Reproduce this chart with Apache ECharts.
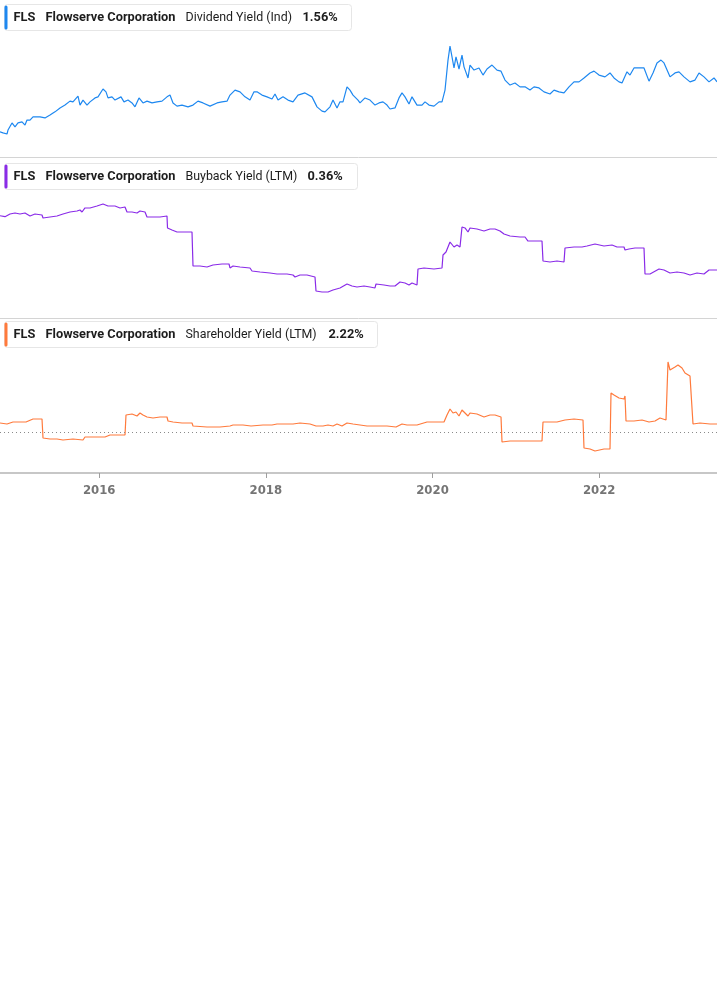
<!DOCTYPE html>
<html>
<head>
<meta charset="utf-8">
<script src="https://cdn.jsdelivr.net/npm/echarts@6/dist/echarts.min.js"></script>
<style>
html,body{margin:0;padding:0;background:#fff;}
#chart{width:717px;height:1005px;}
</style>
</head>
<body>
<div id="chart"></div>
<script>
// ---------- DATA (x values are decimal years) ----------
const ticker = 'FLS';
const company = 'Flowserve Corporation';
const metricNames = ['Dividend Yield (Ind)', 'Buyback Yield (LTM)', 'Shareholder Yield (LTM)'];
const latestValues = ['1.56%', '0.36%', '2.22%'];
const tickYears = [2016, 2018, 2020, 2022];
const xStart = 2014.81;
const xEnd = 2023.414;
const shareholderRef = 1.8;

const dividendYears = [2014.810,2014.846,2014.894,2014.906,2014.954,2014.990,2015.026,2015.074,2015.110,2015.134,2015.170,2015.206,2015.290,2015.350,2015.410,2015.470,2015.530,2015.590,2015.650,2015.686,2015.746,2015.770,2015.806,2015.854,2015.890,2015.950,2015.986,2016.046,2016.082,2016.106,2016.154,2016.190,2016.262,2016.298,2016.346,2016.394,2016.430,2016.478,2016.526,2016.574,2016.634,2016.694,2016.754,2016.814,2016.850,2016.886,2016.934,2016.994,2017.066,2017.126,2017.186,2017.246,2017.330,2017.414,2017.474,2017.534,2017.570,2017.630,2017.690,2017.750,2017.810,2017.858,2017.894,2017.954,2018.014,2018.074,2018.110,2018.146,2018.206,2018.266,2018.326,2018.386,2018.470,2018.554,2018.614,2018.674,2018.710,2018.770,2018.806,2018.854,2018.890,2018.926,2018.974,2019.010,2019.046,2019.106,2019.130,2019.190,2019.250,2019.310,2019.358,2019.406,2019.454,2019.490,2019.550,2019.598,2019.634,2019.670,2019.718,2019.754,2019.814,2019.874,2019.910,2019.958,2020.018,2020.078,2020.114,2020.150,2020.186,2020.210,2020.234,2020.258,2020.282,2020.318,2020.354,2020.378,2020.426,2020.450,2020.498,2020.558,2020.606,2020.654,2020.714,2020.774,2020.822,2020.870,2020.930,2020.990,2021.050,2021.110,2021.170,2021.218,2021.278,2021.338,2021.410,2021.458,2021.518,2021.578,2021.638,2021.698,2021.758,2021.818,2021.890,2021.938,2021.998,2022.070,2022.130,2022.178,2022.238,2022.274,2022.334,2022.370,2022.418,2022.478,2022.538,2022.598,2022.646,2022.694,2022.742,2022.778,2022.850,2022.910,2022.958,2023.018,2023.090,2023.150,2023.198,2023.258,2023.318,2023.378,2023.414];
const dividendValues = [0.91,0.88,0.85,0.96,1.16,1.05,1.16,1.19,1.10,1.24,1.24,1.33,1.33,1.30,1.38,1.47,1.58,1.66,1.77,1.75,1.91,1.66,1.80,1.66,1.75,1.86,1.89,2.11,2.03,1.86,1.89,1.80,1.89,1.75,1.80,1.72,1.61,1.86,1.72,1.77,1.72,1.75,1.77,1.89,1.94,1.72,1.63,1.66,1.61,1.66,1.77,1.72,1.63,1.72,1.75,1.77,1.94,2.08,2.03,1.89,1.80,2.03,2.03,1.94,1.89,1.83,1.97,1.80,1.89,1.80,1.75,1.94,2.00,1.89,1.61,1.49,1.47,1.61,1.80,1.58,1.75,1.75,2.17,2.08,1.94,1.80,1.72,1.86,1.80,1.66,1.72,1.75,1.66,1.55,1.58,1.86,2.00,1.89,1.69,1.89,1.66,1.66,1.75,1.66,1.63,1.75,1.75,2.08,2.92,3.31,3.01,2.70,3.01,2.67,3.06,2.73,2.42,2.78,2.64,2.70,2.50,2.67,2.78,2.64,2.61,2.36,2.22,2.28,2.17,2.17,2.08,2.17,2.14,2.03,1.97,2.08,2.03,2.00,2.17,2.31,2.31,2.42,2.56,2.61,2.50,2.45,2.56,2.42,2.31,2.28,2.59,2.50,2.70,2.70,2.70,2.33,2.56,2.84,2.92,2.84,2.45,2.56,2.59,2.45,2.31,2.36,2.56,2.45,2.31,2.42,2.31];

const buybackYears = [2014.810,2014.870,2014.930,2014.990,2015.050,2015.110,2015.170,2015.230,2015.314,2015.326,2015.410,2015.494,2015.566,2015.650,2015.734,2015.770,2015.794,2015.830,2015.890,2015.974,2016.046,2016.106,2016.190,2016.250,2016.310,2016.334,2016.394,2016.454,2016.490,2016.550,2016.574,2016.646,2016.730,2016.814,2016.820,2016.874,2016.934,2017.030,2017.114,2017.126,2017.210,2017.294,2017.366,2017.474,2017.558,2017.570,2017.606,2017.690,2017.810,2017.834,2017.930,2018.050,2018.134,2018.254,2018.326,2018.350,2018.410,2018.494,2018.590,2018.602,2018.674,2018.746,2018.806,2018.890,2018.974,2019.034,2019.094,2019.178,2019.250,2019.310,2019.322,2019.418,2019.490,2019.550,2019.610,2019.670,2019.718,2019.754,2019.814,2019.826,2019.898,2020.018,2020.114,2020.126,2020.162,2020.210,2020.258,2020.294,2020.330,2020.354,2020.390,2020.426,2020.450,2020.534,2020.618,2020.690,2020.750,2020.810,2020.858,2020.930,2021.050,2021.110,2021.146,2021.314,2021.326,2021.410,2021.494,2021.578,2021.590,2021.698,2021.794,2021.854,2021.950,2022.058,2022.154,2022.214,2022.298,2022.310,2022.358,2022.430,2022.538,2022.550,2022.610,2022.718,2022.778,2022.850,2022.934,2023.018,2023.090,2023.174,2023.258,2023.318,2023.414];
const buybackValues = [1.251,1.235,1.279,1.296,1.279,1.296,1.246,1.279,1.263,1.214,1.230,1.246,1.279,1.312,1.328,1.345,1.312,1.378,1.378,1.410,1.443,1.410,1.410,1.378,1.394,1.312,1.312,1.296,1.328,1.312,1.230,1.230,1.230,1.246,1.050,1.017,0.984,0.984,0.984,0.426,0.426,0.410,0.443,0.459,0.459,0.394,0.426,0.410,0.394,0.344,0.328,0.312,0.295,0.295,0.279,0.246,0.279,0.279,0.246,0.016,0.000,0.000,0.033,0.066,0.131,0.098,0.082,0.098,0.082,0.066,0.131,0.115,0.098,0.098,0.164,0.148,0.115,0.148,0.115,0.377,0.394,0.377,0.394,0.607,0.656,0.820,0.738,0.771,0.738,1.066,1.050,0.984,1.050,1.033,1.000,1.033,1.033,1.000,0.951,0.918,0.902,0.902,0.836,0.836,0.508,0.492,0.508,0.492,0.722,0.738,0.738,0.754,0.787,0.754,0.771,0.738,0.738,0.689,0.705,0.722,0.722,0.295,0.295,0.377,0.361,0.312,0.328,0.312,0.279,0.312,0.295,0.361,0.361];

const shareholderYears = [2014.810,2014.894,2014.966,2015.050,2015.122,2015.134,2015.206,2015.314,2015.326,2015.410,2015.494,2015.566,2015.590,2015.686,2015.806,2015.830,2015.926,2016.010,2016.070,2016.130,2016.214,2016.310,2016.322,2016.394,2016.454,2016.490,2016.526,2016.574,2016.646,2016.730,2016.814,2016.826,2016.886,2016.994,2017.114,2017.126,2017.294,2017.450,2017.570,2017.606,2017.726,2017.822,2017.846,2017.966,2018.074,2018.134,2018.254,2018.326,2018.410,2018.530,2018.602,2018.686,2018.746,2018.806,2018.854,2018.914,2018.974,2019.046,2019.130,2019.214,2019.334,2019.454,2019.562,2019.634,2019.694,2019.754,2019.814,2019.826,2019.934,2020.054,2020.138,2020.174,2020.210,2020.246,2020.282,2020.318,2020.354,2020.390,2020.426,2020.450,2020.534,2020.618,2020.690,2020.750,2020.822,2020.834,2020.930,2021.098,2021.218,2021.314,2021.326,2021.410,2021.494,2021.590,2021.698,2021.806,2021.818,2021.890,2021.950,2022.058,2022.130,2022.142,2022.178,2022.238,2022.298,2022.310,2022.322,2022.418,2022.514,2022.598,2022.670,2022.730,2022.802,2022.826,2022.850,2022.910,2022.946,2022.994,2023.030,2023.090,2023.102,2023.126,2023.210,2023.330,2023.414];
const shareholderValues = [2.27,2.22,2.32,2.32,2.32,2.42,2.47,2.47,1.52,1.47,1.47,1.42,1.47,1.47,1.42,1.57,1.57,1.57,1.57,1.67,1.67,1.67,2.67,2.72,2.62,2.77,2.67,2.57,2.52,2.57,2.57,2.37,2.32,2.27,2.27,2.12,2.07,2.07,2.12,2.17,2.17,2.12,2.22,2.17,2.17,2.22,2.22,2.22,2.27,2.22,2.12,2.12,2.17,2.12,2.22,2.12,2.27,2.22,2.17,2.12,2.12,2.12,2.07,2.22,2.17,2.17,2.17,2.27,2.32,2.32,2.32,2.67,2.97,2.77,2.82,2.62,2.92,2.77,2.62,2.77,2.72,2.57,2.67,2.67,2.57,1.32,1.37,1.37,1.37,1.37,2.32,2.32,2.32,2.42,2.47,2.42,1.02,0.97,0.87,0.97,0.97,3.77,3.67,3.52,3.47,3.62,2.37,2.37,2.42,2.32,2.37,2.52,2.42,5.32,4.92,5.07,5.17,5.02,4.77,4.62,4.52,2.22,2.27,2.22,2.22];

const colors = ['#1e88f0', '#8a2be8', '#ff7a3c'];

// ---------- BUILD ----------
function zip(xs, ys) { return xs.map((x, i) => [x, ys[i]]); }

const gridDefs = [
  { top: 20, height: 130, min: 0.402, max: 4.042 },
  { top: 180, height: 125, min: -0.2132, max: 1.8368 },
  { top: 340, height: 133, min: -0.23, max: 6.42 }
];

const chart = echarts.init(document.getElementById('chart'), null, { renderer: 'canvas' });

const xAxes = gridDefs.map((g, i) => {
  const base = { type: 'value', gridIndex: i, min: xStart, max: xEnd, splitLine: { show: false } };
  if (i < 2) return Object.assign(base, { show: false });
  return Object.assign(base, {
    axisLine: { show: true, onZero: false, lineStyle: { color: '#b5b5b5', width: 1.5 } },
    axisTick: { show: true, customValues: tickYears, length: 5, lineStyle: { color: '#9e9e9e', width: 1 } },
    axisLabel: {
      customValues: tickYears,
      formatter: v => String(Math.round(v)),
      color: '#757575', fontWeight: 'bold', fontSize: 13,
      fontFamily: '"Liberation Sans Narrow", "DejaVu Sans Condensed", sans-serif',
      margin: 11
    }
  });
});

const yAxes = gridDefs.map((g, i) => ({
  type: 'value', gridIndex: i, min: g.min, max: g.max, show: false, splitLine: { show: false }
}));

const seriesData = [zip(dividendYears, dividendValues), zip(buybackYears, buybackValues), zip(shareholderYears, shareholderValues)];

const series = seriesData.map((d, i) => {
  const s = {
    type: 'line', xAxisIndex: i, yAxisIndex: i, data: d, showSymbol: false, symbol: 'none',
    lineStyle: { color: colors[i], width: 1.2 }, itemStyle: { color: colors[i] }, silent: true, z: 2
  };
  if (i === 2) {
    s.markLine = {
      silent: true, symbol: 'none', label: { show: false },
      lineStyle: { color: '#8a8a8a', type: [1, 3], width: 1 },
      data: [{ yAxis: shareholderRef }]
    };
  }
  return s;
});

const boxDefs = [
  { top: 4, width: 347, valueX: 298 },
  { top: 163, width: 353, valueX: 303 },
  { top: 321, width: 373, valueX: 324 }
];
const fontFam = 'Roboto, "Noto Sans", sans-serif';
const boldFont = 'bold 12.8px ' + fontFam;
const normFont = 'normal 12.4px ' + fontFam;
const graphics = [];
boxDefs.forEach((b, i) => {
  graphics.push({
    type: 'group', left: 4, top: b.top, z: 100,
    children: [
      { type: 'rect', shape: { x: 0, y: 0, width: b.width, height: 26, r: 3 }, style: { fill: '#fff', stroke: '#e6e6e6', lineWidth: 1 } },
      { type: 'rect', shape: { x: 0, y: 1, width: 3, height: 24, r: 1.5 }, style: { fill: colors[i] } },
      { type: 'text', x: 9, y: 13, style: { text: ticker, fill: '#1d1d1d', font: boldFont, verticalAlign: 'middle' } },
      { type: 'text', x: 41, y: 13, style: { text: company, fill: '#1d1d1d', font: boldFont, verticalAlign: 'middle' } },
      { type: 'text', x: 181, y: 13, style: { text: metricNames[i], fill: '#1d1d1d', font: normFont, verticalAlign: 'middle' } },
      { type: 'text', x: b.valueX, y: 13, style: { text: latestValues[i], fill: '#1d1d1d', font: boldFont, verticalAlign: 'middle' } }
    ]
  });
});
[157.5, 318.5].forEach(y => {
  graphics.push({ type: 'line', shape: { x1: 0, y1: y, x2: 717, y2: y }, style: { stroke: '#d4d4d4', lineWidth: 1 }, z: 1 });
});

chart.setOption({
  animation: false,
  backgroundColor: '#ffffff',
  grid: gridDefs.map(g => ({ left: 0, right: 0, top: g.top, height: g.height, containLabel: false })),
  xAxis: xAxes,
  yAxis: yAxes,
  series: series,
  graphic: graphics
});
</script>
</body>
</html>
